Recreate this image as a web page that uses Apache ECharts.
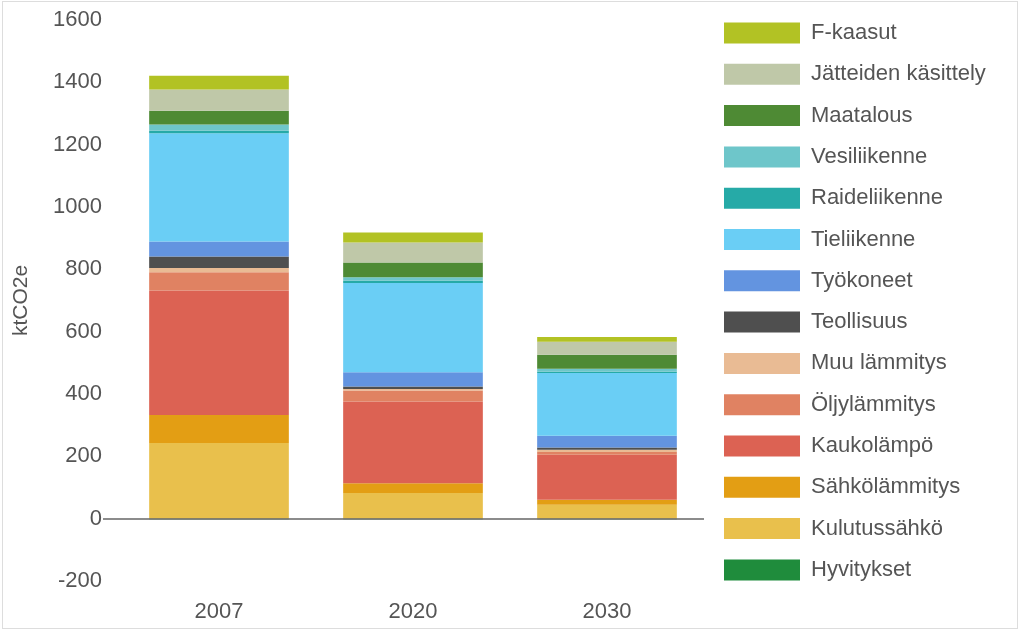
<!DOCTYPE html>
<html>
<head>
<meta charset="utf-8">
<script src="https://cdn.jsdelivr.net/npm/echarts@6/dist/echarts.min.js"></script>
<style>
html,body{margin:0;padding:0;background:#fff;}
#frame{position:absolute;left:2px;top:1px;width:1014px;height:626px;border:1px solid #ddd;}
#chart{position:absolute;left:0;top:0;width:1024px;height:635px;}
</style>
</head>
<body>
<div id="frame"></div>
<div id="chart"></div>
<script>
const categories = ['2007', '2020', '2030'];
const seriesNames = ['Hyvitykset', 'Kulutussähkö', 'Sähkölämmitys', 'Kaukolämpö', 'Öljylämmitys', 'Muu lämmitys', 'Teollisuus', 'Työkoneet', 'Tieliikenne', 'Raideliikenne', 'Vesiliikenne', 'Maatalous', 'Jätteiden käsittely', 'F-kaasut'];
const seriesColors = ['#1f8c3c', '#e9c04c', '#e39e14', '#dc6253', '#e08262', '#e9bb94', '#4f4f4f', '#6394e0', '#6acef5', '#26aaa7', '#6ec6ca', '#4e8a34', '#bfc8a8', '#b2c224'];
const hyvitykset = [-2, -2, -2];
const kulutussahko = [243, 82, 45];
const sahkolammitys = [90, 32, 16];
const kaukolampo = [399, 262, 144];
const oljylammitys = [59, 35, 9];
const muuLammitys = [13, 5, 7];
const teollisuus = [37, 8, 7];
const tyokoneet = [48, 46, 38];
const tieliikenne = [348, 286, 201];
const raideliikenne = [8, 7, 4];
const vesiliikenne = [20, 12, 10];
const maatalous = [44, 47, 45];
const jatteet = [68, 64, 42];
const fkaasut = [44, 32, 15];
const yTicks = [-200, 0, 200, 400, 600, 800, 1000, 1200, 1400, 1600];

const seriesData = [hyvitykset, kulutussahko, sahkolammitys, kaukolampo, oljylammitys, muuLammitys, teollisuus, tyokoneet, tieliikenne, raideliikenne, vesiliikenne, maatalous, jatteet, fkaasut];

const font = 'Liberation Sans, Arial, sans-serif';
const series = seriesNames.map((name, i) => ({
  name: name,
  type: 'bar',
  stack: 'total',
  barWidth: '72%',
  itemStyle: { color: seriesColors[i] },
  data: seriesData[i],
  emphasis: { disabled: true }
}));
series[0].markLine = {
  silent: true,
  symbol: 'none',
  label: { show: false },
  lineStyle: { color: '#666', width: 1.5, type: 'solid' },
  data: [{ yAxis: 0 }]
};

const chart = echarts.init(document.getElementById('chart'));
chart.setOption({
  animation: false,
  grid: { left: 122, right: 320, top: 20, bottom: 54 },
  legend: {
    orient: 'vertical',
    left: 719,
    top: 17,
    itemWidth: 76,
    itemHeight: 21,
    itemGap: 19.3,
    icon: 'rect',
    data: seriesNames.slice().reverse(),
    textStyle: { fontFamily: font, fontSize: 22, color: '#555', padding: [0, 0, 0, 6] }
  },
  xAxis: {
    type: 'category',
    data: categories,
    axisLine: { show: false, onZero: false },
    axisTick: { show: false },
    axisLabel: { fontFamily: font, fontSize: 22, color: '#555', margin: 20 }
  },
  yAxis: {
    type: 'value',
    min: yTicks[0],
    max: yTicks[yTicks.length - 1],
    interval: 200,
    name: 'ktCO2e',
    nameLocation: 'middle',
    nameGap: 90,
    nameTextStyle: { fontFamily: font, fontSize: 21, color: '#555' },
    axisLine: { show: false },
    axisTick: { show: true, customValues: [0], length: 19, lineStyle: { color: '#666', width: 1.5 } },
    splitLine: { show: false },
    axisLabel: { fontFamily: font, fontSize: 22, color: '#555', margin: 20, formatter: v => String(v) }
  },
  series: series
});
</script>
</body>
</html>
